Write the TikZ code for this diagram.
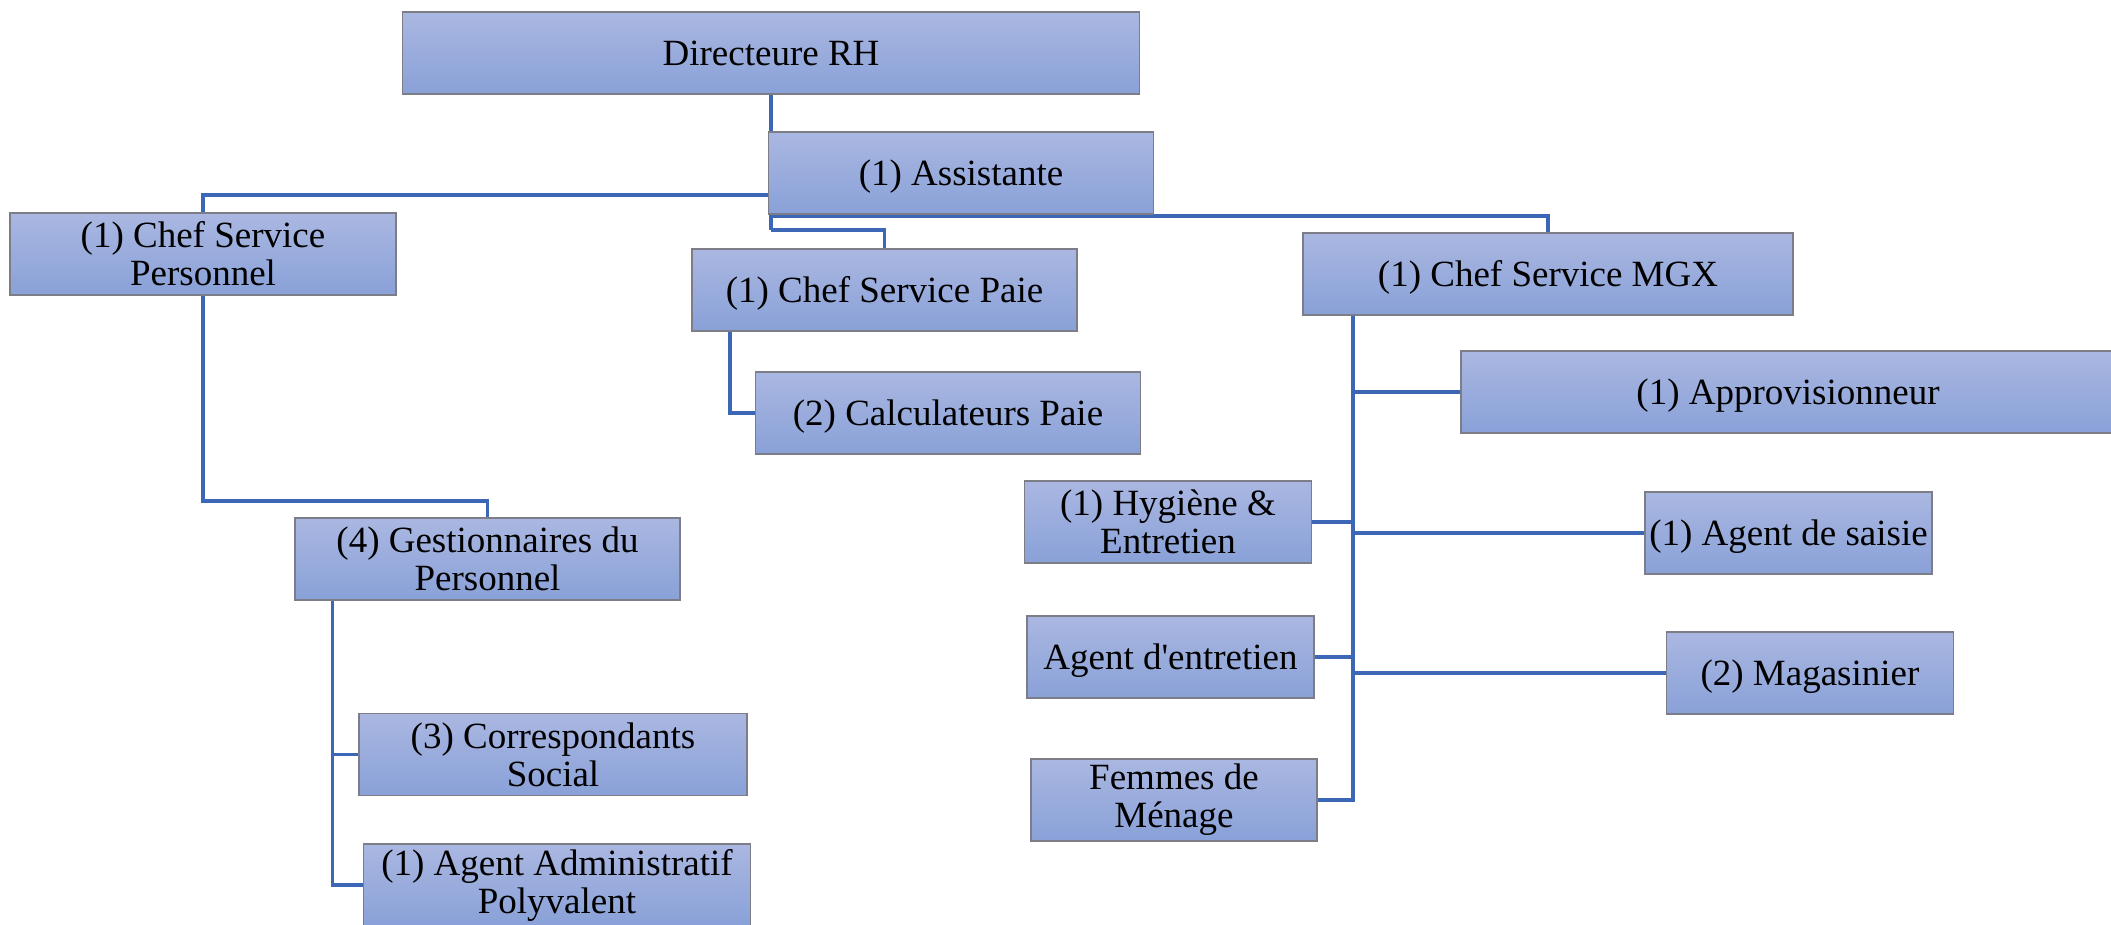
\documentclass[tikz,border=0pt]{standalone}
\usepackage{fontspec}
\setmainfont{Liberation Serif}
\usetikzlibrary{backgrounds}
\definecolor{boxtop}{RGB}{170,183,225}
\definecolor{boxbot}{RGB}{137,161,216}
\definecolor{boxline}{RGB}{125,125,135}
\definecolor{connblue}{RGB}{60,102,182}
\tikzset{
  orgbox/.style={draw=boxline, line width=0.9pt, top color=boxtop, bottom color=boxbot,
    minimum height=41pt, inner sep=1pt, align=center,
    font=\fontsize{18.5pt}{19pt}\selectfont},
  oneline/.style={text height=15pt, text depth=2.2pt},
  conn/.style={draw=connblue, line width=1.8pt},
}
\begin{document}
\begin{tikzpicture}[x=0.5pt, y=-0.5pt]
\useasboundingbox (0,0) rectangle (2111,925);
% nodes
\node[orgbox, oneline, minimum width=368.5pt] (dir) at (771,53) {Directeure RH};
\node[orgbox, oneline, minimum width=192.5pt] (asst) at (961,173) {(1) Assistante};
\node[orgbox, minimum width=193pt] (pers) at (203,254) {(1) Chef Service\\Personnel};
\node[orgbox, oneline, minimum width=192.5pt] (paie) at (884.5,290) {(1) Chef Service Paie};
\node[orgbox, oneline, minimum width=192.5pt] (calc) at (948,413) {(2) Calculateurs Paie};
\node[orgbox, oneline, minimum width=245pt] (mgx) at (1548,274) {(1) Chef Service MGX};
\node[orgbox, oneline, minimum width=327pt] (appro) at (1788,392) {(1) Approvisionneur};
\node[orgbox, minimum width=143.5pt] (hyg) at (1168,522) {(1) Hygiène \&\\Entretien};
\node[orgbox, oneline, minimum width=143.5pt] (saisie) at (1788.5,533) {(1) Agent de saisie};
\node[orgbox, oneline, minimum width=143.5pt] (entr) at (1170.5,657) {Agent d\textquotesingle entretien};
\node[orgbox, oneline, minimum width=143.5pt] (mag) at (1810,673) {(2) Magasinier};
\node[orgbox, minimum width=143pt] (fem) at (1174,800) {Femmes de\\Ménage};
\node[orgbox, minimum width=192.5pt] (gest) at (487.5,559) {(4) Gestionnaires du\\Personnel};
\node[orgbox, minimum width=194pt] (corr) at (553,754.5) {(3) Correspondants\\Social};
\node[orgbox, minimum width=193.5pt] (admin) at (557,885) {(1) Agent Administratif\\Polyvalent};
% connectors
\begin{scope}[on background layer]
\coordinate (jP) at (771,195);
\coordinate (jM) at (771,216);
\coordinate (jQ) at (771,230);
\draw[conn] (dir.south) -- (jQ);
\draw[conn] (jP) -| (pers.north);
\draw[conn] (jM) -| (mgx.north);
\draw[conn] (jQ) -| (paie.north);
\coordinate (jG) at (203,501);
\draw[conn] (pers.south) -- (jG) -| (gest.north);
\coordinate (jC) at (730,331);
\draw[conn] (jC) |- (calc.west);
\coordinate (m0) at (1353,315);
\draw[conn] (fem.east) -| (m0);
\draw[conn] (m0 |- appro.west) -- (appro.west);
\draw[conn] (m0 |- saisie.west) -- (saisie.west);
\draw[conn] (m0 |- mag.west) -- (mag.west);
\draw[conn] (hyg.east) -- (m0 |- hyg.east);
\draw[conn] (entr.east) -- (m0 |- entr.east);
\coordinate (g0) at (332.5,600.5);
\draw[conn] (g0) |- (admin.west);
\draw[conn] (g0 |- corr.west) -- (corr.west);
\end{scope}
\end{tikzpicture}
\end{document}
